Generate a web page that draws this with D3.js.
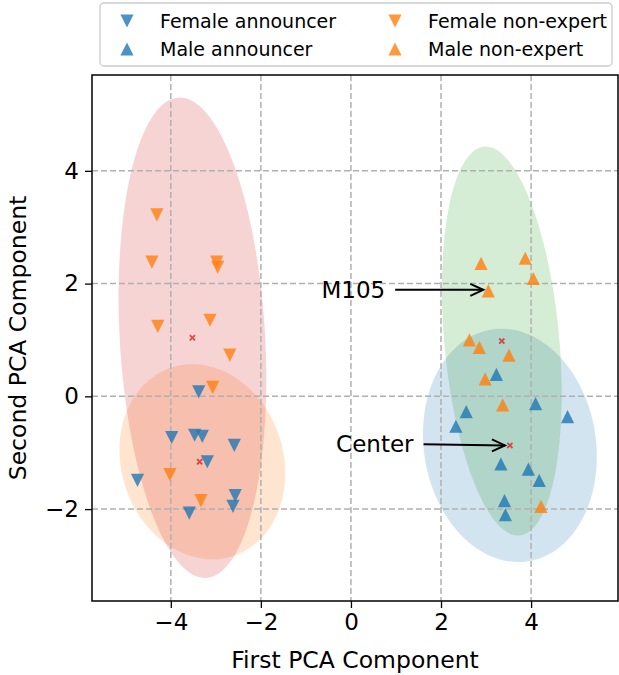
<!DOCTYPE html>
<html>
<head>
<meta charset="utf-8">
<script src="https://cdn.jsdelivr.net/npm/d3@7"></script>
<style>
  body { margin: 0; background: #fff; }
  svg text { font-family: "DejaVu Sans", sans-serif; fill: #000; }
</style>
</head>
<body>
<div id="chart"></div>
<script>
// groups, in legend order
const groups = ['Female announcer', 'Male announcer', 'Female non-expert', 'Male non-expert'];
const groupColor = ['#1f77b4', '#1f77b4', '#ff7f0e', '#ff7f0e'];
const groupDir = ['down', 'up', 'down', 'up'];

// points: [x, y]
const femaleAnnouncer = [[-3.38, 0.08], [-3.98, -0.73], [-3.47, -0.69], [-3.30, -0.71], [-2.59, -0.87],
  [-3.19, -1.16], [-4.74, -1.49], [-2.57, -1.76], [-2.62, -1.95], [-3.59, -2.07]];
const maleAnnouncer = [[3.23, 0.39], [4.10, -0.13], [2.56, -0.27], [4.81, -0.36], [2.33, -0.53],
  [3.33, -1.20], [3.94, -1.29], [4.18, -1.49], [3.41, -1.85], [3.43, -2.10]];
const femaleNonExpert = [[-4.31, 3.22], [-4.42, 2.38], [-2.98, 2.38], [-2.96, 2.29], [-4.29, 1.24],
  [-3.13, 1.35], [-2.69, 0.73], [-3.07, 0.16], [-4.02, -1.39], [-3.33, -1.85]];
const maleNonExpert = [[2.89, 2.36], [3.87, 2.45], [4.05, 2.09], [3.05, 1.87], [2.63, 1.00],
  [2.85, 0.87], [3.51, 0.73], [2.98, 0.31], [3.37, -0.15], [4.22, -1.95]];
const groupPoints = [femaleAnnouncer, maleAnnouncer, femaleNonExpert, maleNonExpert];

// group centres (red crosses)
const centers = [[-3.36, -1.16], [3.53, -0.87], [-3.52, 1.04], [3.35, 0.98]];

// ellipses: centre, half extent in x, half extent in y, correlation
const ellipseCenter = [[-3.30, -1.16], [-3.52, 1.04], [3.53, -0.87], [3.35, 0.98]];
const ellipseRx = [1.84, 1.64, 1.93, 1.33];
const ellipseRy = [1.73, 4.26, 2.07, 3.45];
const ellipseRho = [-0.12, -0.17, -0.097, -0.27];
const ellipseColor = ['#ff7f0e', '#d62728', '#1f77b4', '#2ca02c'];

const xTicks = [-4, -2, 0, 2, 4];
const yTicks = [-2, 0, 2, 4];

// annotations: label, text anchor point, arrow target
const notes = [
  {label: 'M105', at: [0.76, 1.89], to: [3.05, 1.89]},
  {label: 'Center', at: [1.39, -0.85], to: [3.53, -0.87]}
];

const width = 619, height = 675;
const plot = {left: 92, right: 618, top: 75, bottom: 601};

const svg = d3.select('#chart').append('svg')
  .attr('width', width)
  .attr('height', height);

const x = d3.scaleLinear().domain([-5.75, 5.93]).range([plot.left, plot.right]);
const y = d3.scaleLinear().domain([-3.63, 5.70]).range([plot.bottom, plot.top]);

svg.append('defs').append('clipPath').attr('id', 'clip')
  .append('rect')
  .attr('x', plot.left).attr('y', plot.top)
  .attr('width', plot.right - plot.left).attr('height', plot.bottom - plot.top);

const inner = svg.append('g').attr('clip-path', 'url(#clip)');

// ellipses
const ellipseLine = d3.line().curve(d3.curveLinearClosed);
ellipseCenter.forEach((c, i) => {
  const rx = ellipseRx[i], ry = ellipseRy[i], rho = ellipseRho[i];
  const pts = d3.range(0, 360, 2).map(deg => {
    const t = deg * Math.PI / 180;
    const dx = rx * Math.cos(t);
    const dy = rho * ry * Math.cos(t) + ry * Math.sqrt(1 - rho * rho) * Math.sin(t);
    return [x(c[0] + dx), y(c[1] + dy)];
  });
  inner.append('path')
    .attr('d', ellipseLine(pts))
    .attr('fill', ellipseColor[i])
    .attr('fill-opacity', 0.2);
});

// grid
const grid = inner.append('g')
  .attr('stroke', '#b0b0b0')
  .attr('stroke-width', 1.5)
  .attr('stroke-dasharray', '6,3');
grid.selectAll('.gx').data(xTicks).enter().append('line')
  .attr('x1', d => x(d)).attr('x2', d => x(d))
  .attr('y1', plot.top).attr('y2', plot.bottom);
grid.selectAll('.gy').data(yTicks).enter().append('line')
  .attr('y1', d => y(d)).attr('y2', d => y(d))
  .attr('x1', plot.left).attr('x2', plot.right);

function triangle(dir, h) {
  if (dir === 'up') return 'M0,' + (-h) + 'L' + (-h) + ',' + h + 'L' + h + ',' + h + 'Z';
  return 'M0,' + h + 'L' + (-h) + ',' + (-h) + 'L' + h + ',' + (-h) + 'Z';
}

// points
groupPoints.forEach((pts, i) => {
  inner.append('g').selectAll('path')
    .data(pts)
    .enter().append('path')
    .attr('transform', d => 'translate(' + x(d[0]) + ',' + y(d[1]) + ')')
    .attr('d', triangle(groupDir[i], 6.6))
    .attr('fill', groupColor[i])
    .attr('fill-opacity', 0.8);
});

// centres
inner.append('g').selectAll('path')
  .data(centers)
  .enter().append('path')
  .attr('transform', d => 'translate(' + x(d[0]) + ',' + y(d[1]) + ')')
  .attr('d', 'M-2.6,-2.6L2.6,2.6M-2.6,2.6L2.6,-2.6')
  .attr('stroke', '#d62728')
  .attr('stroke-opacity', 0.8)
  .attr('stroke-width', 1.8);

// annotations
notes.forEach(n => {
  const tx = x(n.at[0]), ty = y(n.at[1]);
  svg.append('text')
    .attr('x', tx).attr('y', ty)
    .attr('dy', '0.35em')
    .attr('text-anchor', 'end')
    .style('font-size', '23px')
    .text(n.label);
  const x1 = tx + 10, x2 = x(n.to[0]) - 5, y2 = y(n.to[1]);
  svg.append('line')
    .attr('x1', x1).attr('y1', ty).attr('x2', x2).attr('y2', y2)
    .attr('stroke', '#000').attr('stroke-width', 2);
  svg.append('path')
    .attr('d', 'M' + (x2 - 13) + ',' + (y2 - 6) + 'L' + x2 + ',' + y2 + 'L' + (x2 - 13) + ',' + (y2 + 6))
    .attr('fill', 'none').attr('stroke', '#000').attr('stroke-width', 2);
});

// axes
const xAxis = svg.append('g')
  .attr('transform', 'translate(0,' + plot.bottom + ')')
  .call(d3.axisBottom(x).tickValues(xTicks).tickSize(7).tickPadding(6).tickFormat(d3.format('')));
const yAxis = svg.append('g')
  .attr('transform', 'translate(' + plot.left + ',0)')
  .call(d3.axisLeft(y).tickValues(yTicks).tickSize(7).tickPadding(6).tickFormat(d3.format('')));
[xAxis, yAxis].forEach(a => {
  a.select('.domain').remove();
  a.selectAll('line').attr('stroke', '#000').attr('stroke-width', 1.3);
  a.selectAll('text').style('font-size', '23px').attr('font-family', 'DejaVu Sans');
});

svg.append('rect')
  .attr('x', plot.left).attr('y', plot.top)
  .attr('width', plot.right - plot.left).attr('height', plot.bottom - plot.top)
  .attr('fill', 'none').attr('stroke', '#000').attr('stroke-width', 1.5);

svg.append('text')
  .attr('x', (plot.left + plot.right) / 2).attr('y', 668)
  .attr('text-anchor', 'middle')
  .style('font-size', '23.5px')
  .text('First PCA Component');

svg.append('text')
  .attr('transform', 'translate(26,' + ((plot.top + plot.bottom) / 2) + ') rotate(-90)')
  .attr('text-anchor', 'middle')
  .style('font-size', '23.5px')
  .text('Second PCA Component');

// legend
const legend = svg.append('g');
legend.append('rect')
  .attr('x', 100).attr('y', 3).attr('width', 512).attr('height', 63).attr('rx', 4)
  .attr('fill', '#fff').attr('fill-opacity', 0.8)
  .attr('stroke', '#cccccc').attr('stroke-width', 1.3);
groups.forEach((g, i) => {
  const col = Math.floor(i / 2), row = i % 2;
  const lx = 127 + col * 268, ly = 21 + row * 28;
  legend.append('path')
    .attr('transform', 'translate(' + lx + ',' + ly + ')')
    .attr('d', triangle(groupDir[i], 6.6))
    .attr('fill', groupColor[i]).attr('fill-opacity', 0.8);
  legend.append('text')
    .attr('x', lx + 33).attr('y', ly).attr('dy', '0.35em')
    .style('font-size', '19px')
    .text(g);
});
</script>
</body>
</html>
